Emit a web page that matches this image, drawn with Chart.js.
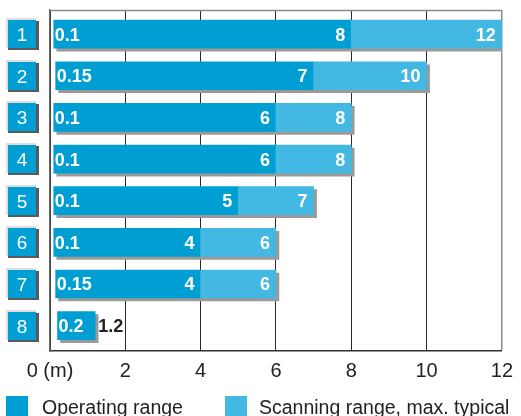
<!DOCTYPE html>
<html>
<head>
<meta charset="utf-8">
<script src="https://cdn.jsdelivr.net/npm/chart.js@4/dist/chart.umd.min.js"></script>
<style>
  html, body { margin: 0; padding: 0; background: #fff; overflow: hidden; }
  #wrap { width: 521px; height: 416px; position: relative; }
</style>
</head>
<body>
<div id="wrap"><canvas id="c" width="521" height="416"></canvas></div>
<script>
// Sensor ranges per model (metres)
const categories = ['1', '2', '3', '4', '5', '6', '7', '8'];
const minRange = [0.1, 0.15, 0.1, 0.1, 0.1, 0.1, 0.15, 0.2];
const operatingMax = [8, 7, 6, 6, 5, 4, 4, 1.2];
const scanningMax = [12, 10, 8, 8, 7, 6, 6, null];
const xTicks = [0, 2, 4, 6, 8, 10, 12];
const seriesNames = ['Operating range', 'Scanning range, max. typical'];

const DARK = '#009fd3';
const LIGHT = '#42b8e2';
const SHADOW = '#9a9a9a';
const FONT = '"Liberation Sans", Arial, sans-serif';

const operatingData = categories.map((c, i) => ({ y: i + 1, x: [minRange[i], operatingMax[i]] }));
const scanningData = categories
  .map((c, i) => (scanningMax[i] == null ? null : { y: i + 1, x: [operatingMax[i], scanningMax[i]] }))
  .filter(d => d !== null);

// Flat drop shadow under every bar
const barShadow = {
  id: 'barShadow',
  beforeDatasetDraw(chart) {
    const ctx = chart.ctx;
    ctx.save();
    ctx.shadowColor = SHADOW;
    ctx.shadowOffsetX = 3;
    ctx.shadowOffsetY = 3;
    ctx.shadowBlur = 0;
  },
  afterDatasetDraw(chart) {
    chart.ctx.restore();
  }
};

// Top frame line
const frame = {
  id: 'frame',
  beforeDatasetsDraw(chart) {
    const { ctx, chartArea: a } = chart;
    ctx.save();
    ctx.strokeStyle = '#8c8c8c';
    ctx.lineWidth = 1.5;
    ctx.beginPath();
    ctx.moveTo(a.left, a.top + 0.5);
    ctx.lineTo(a.right, a.top + 0.5);
    ctx.stroke();
    ctx.restore();
  }
};

// Range values written on the bars
const barLabels = {
  id: 'barLabels',
  afterDatasetsDraw(chart) {
    const ctx = chart.ctx;
    const opMeta = chart.getDatasetMeta(0);
    const scMeta = chart.getDatasetMeta(1);
    ctx.save();
    ctx.font = 'bold 18px ' + FONT;
    ctx.textBaseline = 'alphabetic';
    opMeta.data.forEach((el, i) => {
      const left = Math.min(el.x, el.base);
      const right = Math.max(el.x, el.base);
      const base = el.y + 6.5;
      ctx.fillStyle = '#fff';
      ctx.textAlign = 'left';
      ctx.fillText(String(minRange[i]), left + 1, base);
      if (scanningMax[i] == null) {
        ctx.fillStyle = '#222';
        ctx.fillText(String(operatingMax[i]), right + 3, base);
      } else {
        ctx.textAlign = 'right';
        ctx.fillText(String(operatingMax[i]), right - 6, base);
      }
    });
    scMeta.data.forEach((el, j) => {
      const right = Math.max(el.x, el.base);
      const idx = scanningData[j].y - 1;
      ctx.fillStyle = '#fff';
      ctx.textAlign = 'right';
      ctx.fillText(String(scanningMax[idx]), right - 6, el.y + 6.5);
    });
    ctx.restore();
  }
};

// Numbered model buttons on the left and legend at the bottom
const sideAndLegend = {
  id: 'sideAndLegend',
  afterDraw(chart) {
    const ctx = chart.ctx;
    const yScale = chart.scales.y;
    ctx.save();
    categories.forEach((c, i) => {
      const cy = Math.round(yScale.getPixelForValue(i + 1));
      ctx.fillStyle = '#dedede';
      ctx.fillRect(6, cy - 16, 30, 30);
      ctx.fillStyle = '#5a5a5a';
      ctx.fillRect(8, cy - 13, 31, 29);
      ctx.fillStyle = DARK;
      ctx.fillRect(8, cy - 14, 28, 28);
      ctx.fillStyle = '#fff';
      ctx.font = '19px ' + FONT;
      ctx.textAlign = 'center';
      ctx.textBaseline = 'alphabetic';
      ctx.fillText(c, 22, cy + 7);
    });

    const items = [
      { x: 6, tx: 42, color: DARK, text: chart.data.datasets[0].label },
      { x: 225, tx: 259, color: LIGHT, text: chart.data.datasets[1].label }
    ];
    items.forEach(it => {
      ctx.fillStyle = it.color;
      ctx.fillRect(it.x, 396, 22, 22);
      ctx.fillStyle = '#222';
      ctx.font = '19.5px ' + FONT;
      ctx.textAlign = 'left';
      ctx.textBaseline = 'alphabetic';
      ctx.fillText(it.text, it.tx, 414);
    });
    ctx.restore();
  }
};

new Chart(document.getElementById('c'), {
  type: 'bar',
  data: {
    datasets: [
      { label: seriesNames[0], data: operatingData, backgroundColor: DARK, order: 2, barThickness: 28, borderSkipped: false },
      { label: seriesNames[1], data: scanningData, backgroundColor: LIGHT, order: 1, barThickness: 28, borderSkipped: false }
    ]
  },
  options: {
    indexAxis: 'y',
    responsive: false,
    animation: false,
    datasets: { bar: { grouped: false } },
    layout: { padding: { left: 50, right: 18, top: 10, bottom: 25 } },
    plugins: {
      legend: { display: false },
      tooltip: { enabled: false }
    },
    scales: {
      x: {
        type: 'linear',
        min: xTicks[0],
        max: xTicks[xTicks.length - 1],
        afterBuildTicks(scale) { scale.ticks = xTicks.map(v => ({ value: v })); },
        ticks: {
          color: '#222',
          font: { family: FONT, size: 20 },
          padding: 8,
          maxRotation: 0,
          callback: v => (v === 0 ? '0 (m)' : String(v))
        },
        grid: {
          drawTicks: false,
          color: ctx => (ctx.tick && ctx.tick.value === 12 ? '#8c8c8c' : '#2a2a2a'),
          lineWidth: ctx => (ctx.tick && ctx.tick.value === 12 ? 1.5 : 1)
        },
        border: { color: '#333', width: 1.5 }
      },
      y: {
        type: 'linear',
        reverse: true,
        offset: false,
        min: 0.42,
        max: 8.61,
        ticks: { display: false },
        grid: { display: false, drawTicks: false, offset: false },
        border: { color: '#666', width: 1.5 }
      }
    }
  },
  plugins: [barShadow, frame, barLabels, sideAndLegend]
});
</script>
</body>
</html>
